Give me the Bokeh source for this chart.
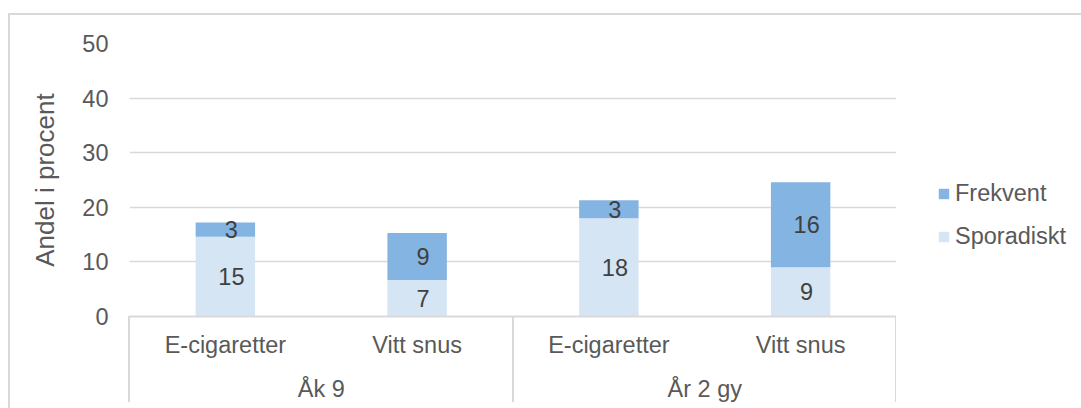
from bokeh.plotting import figure
from bokeh.layouts import row
from bokeh.models import (FactorRange, Range1d, FixedTicker, Legend, LegendItem,
                          ColumnDataSource)
from bokeh.core.properties import value
from bokeh.embed import file_html
from bokeh.resources import INLINE

# ---- data ----
groups = ["Åk 9", "År 2 gy"]
products = ["E-cigaretter", "Vitt snus"]
series = ["Sporadiskt", "Frekvent"]
sporadiskt = [14.6, 6.7, 18.0, 9.0]
frekvent = [2.6, 8.6, 3.3, 15.6]
y_ticks = [0, 10, 20, 30, 40, 50]

# ---- styling / layout ----
FONT = "Liberation Sans"
TXT = "#595959"
GRID = "#d9d9d9"
C_SPOR = "#d5e5f4"
C_FREK = "#84b4e1"
colors = {"Sporadiskt": C_SPOR, "Frekvent": C_FREK}
W, H = 1081, 408
FL, FR, FT, FB = 129, 896, 43, 316   # frame edges in px

factors = [(g, c) for g in groups for c in products]

src = ColumnDataSource(dict(
    x=factors,
    Sporadiskt=sporadiskt,
    Frekvent=frekvent,
))

p = figure(
    width=FR, height=H,
    x_range=FactorRange(*factors, factor_padding=0, group_padding=0,
                        subgroup_padding=0, range_padding=0),
    y_range=Range1d(0, 50),
    output_backend="svg", toolbar_location=None, title=None,
    min_border_left=FL, min_border_right=0, min_border_top=FT,
    min_border_bottom=H - FB,
)
p.outline_line_color = None
p.background_fill_color = None
p.border_fill_color = None


def css_lines(lines):
    imgs = [f"linear-gradient({GRID},{GRID})"] * len(lines)
    return {
        "background-image": ", ".join(imgs),
        "background-position": ", ".join(f"{x}px {y}px" for x, y, _, _ in lines),
        "background-size": ", ".join(f"{w}px {h}px" for _, _, w, h in lines),
        "background-repeat": "no-repeat",
    }


# chart-area border and group separators (decoration, drawn as CSS lines)
seps = [FL + k * (FR - FL) / len(groups) for k in range(len(groups) + 1)]
lines = [(8, 13, 2, 500), (8, 13, 1200, 2)]
lines += [(sx - 1, FB, 2, 86) for sx in seps]
p.styles = css_lines(lines)

rs = p.vbar_stack(series, x="x", width=0.31, source=src,
                  color=[colors[s] for s in series], line_color=None)

# data labels (segment midpoints, rounded values)
lx, ly, lt = [], [], []
for f, s, fr in zip(factors, sporadiskt, frekvent):
    lx += [f, f]
    ly += [s / 2, s + fr / 2]
    lt += [f"{s:.0f}", f"{fr:.0f}"]
p.text(x=lx, y=ly, text=lt, text_align="center", text_baseline="middle",
       x_offset=6, text_font=value(FONT), text_font_size="23.5px",
       text_color="#404040")

# y axis
p.yaxis.ticker = FixedTicker(ticks=y_ticks)
p.yaxis.axis_line_color = None
p.yaxis.major_tick_line_color = None
p.yaxis.minor_tick_line_color = None
p.yaxis.major_tick_out = 0
p.yaxis.major_label_standoff = 21
p.yaxis.major_label_text_font = FONT
p.yaxis.major_label_text_font_size = "23.5px"
p.yaxis.major_label_text_color = TXT
p.yaxis.axis_label = "Andel i procent"
p.yaxis.axis_label_text_font = FONT
p.yaxis.axis_label_text_font_size = "26px"
p.yaxis.axis_label_text_font_style = "normal"
p.yaxis.axis_label_text_color = TXT
p.yaxis.axis_label_standoff = 19

p.ygrid.grid_line_color = GRID
p.ygrid.grid_line_width = 1.5
p.xgrid.grid_line_color = None

# x axis
xa = p.xaxis[0]
xa.axis_line_color = GRID
xa.axis_line_width = 2
xa.major_tick_line_color = None
xa.minor_tick_line_color = None
xa.major_tick_out = 0
xa.major_label_standoff = 15
xa.major_label_text_font = FONT
xa.major_label_text_font_size = "23.5px"
xa.major_label_text_color = TXT
xa.group_text_font = FONT
xa.group_text_font_size = "23.5px"
xa.group_text_color = TXT
xa.group_text_font_style = "normal"
try:
    xa.separator_line_color = None
except Exception:
    pass

# ---- legend panel (separate figure to the right of the plot) ----
pl = figure(width=W - FR, height=H, output_backend="svg",
            toolbar_location=None, title=None,
            x_axis_location=None, y_axis_location=None,
            x_range=Range1d(0, 1), y_range=Range1d(0, 1),
            min_border=0)
pl.outline_line_color = None
pl.background_fill_color = None
pl.border_fill_color = None
pl.grid.visible = False
pl.styles = css_lines([(0, 13, 1200, 2)])
# zero-height swatch renderers (only used for the legend glyphs)
swatch = {s: pl.vbar(x=[-1], top=[0], bottom=[0], width=0.1,
                     color=colors[s], line_color=None)
          for s in series}

legend = Legend(
    items=[LegendItem(label=s, renderers=[swatch[s]]) for s in reversed(series)],
    location=(41, 66), glyph_width=13, glyph_height=13,
    label_standoff=5, spacing=16, padding=0, margin=0,
    border_line_color=None, background_fill_alpha=0, label_text_font=FONT,
    label_text_font_size="23.5px", label_text_color=TXT)
pl.add_layout(legend)

layout = row(p, pl)
open("out.html", "w").write(file_html(layout, INLINE))
